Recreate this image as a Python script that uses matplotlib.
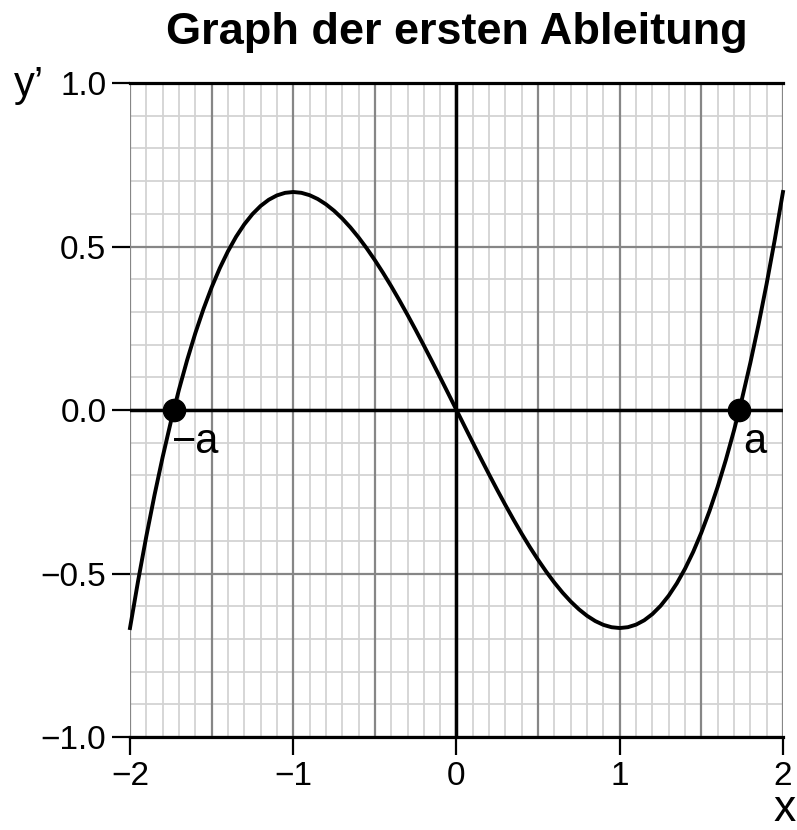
import numpy as np
import matplotlib
matplotlib.use('Agg')
import matplotlib.pyplot as plt
from matplotlib.ticker import MultipleLocator

plt.rcParams['font.family'] = ['Liberation Sans', 'DejaVu Sans']
plt.rcParams['axes.unicode_minus'] = True

x_vals = [round(-2.0 + 0.05 * i, 2) for i in range(81)]
y_left = [-0.6667, -0.5216, -0.3863, -0.2605, -0.1440, -0.0365, 0.0623, 0.1526,
          0.2347, 0.3087, 0.3750, 0.4338, 0.4853, 0.5299, 0.5677, 0.5990,
          0.6240, 0.6430, 0.6563, 0.6641, 0.6667, 0.6642, 0.6570, 0.6453,
          0.6293, 0.6094, 0.5857, 0.5585, 0.5280, 0.4945, 0.4583, 0.4196,
          0.3787, 0.3357, 0.2910, 0.2448, 0.1973, 0.1489, 0.0997, 0.0500]
y_vals = y_left + [0.0] + [-v for v in reversed(y_left)]

# Nullstellen -a und a
roots_x = [-1.732, 1.732]
roots_y = [0.0, 0.0]
root_labels = ['\u2212a', 'a']
label_dx = [-0.01, 0.025]

x_ticks = [-2, -1, 0, 1, 2]
y_ticks = [-1.0, -0.5, 0.0, 0.5, 1.0]

fig = plt.figure(figsize=(7.97, 8.30), dpi=100)
ax = fig.add_axes([0.1631, 0.112, 0.8193, 0.788])

ax.set_xlim(-2, 2)
ax.set_ylim(-1, 1)

# Kästchenraster
ax.xaxis.set_minor_locator(MultipleLocator(0.1))
ax.yaxis.set_minor_locator(MultipleLocator(0.1))
ax.grid(which='minor', color='#d3d3d3', linewidth=1.3, zorder=0)
ax.grid(which='major', axis='y', color='#868686', linewidth=1.6, zorder=0)
ax.set_axisbelow(True)
for xv in np.arange(-2, 2.01, 0.5):
    ax.axvline(xv, color='#868686', linewidth=1.6, zorder=1)

ax.axhline(0, color='black', linewidth=2.5, zorder=2)
ax.axvline(0, color='black', linewidth=2.5, zorder=2)

ax.plot(x_vals, y_vals, color='black', linewidth=2.8, zorder=3, clip_on=False)
ax.plot(roots_x, roots_y, 'o', color='black', markersize=16, zorder=4)
for rx, dx, lab in zip(roots_x, label_dx, root_labels):
    ax.text(rx + dx, -0.131, lab, fontsize=30, ha='left', va='baseline', zorder=5)

for side in ['left', 'right']:
    ax.spines[side].set_visible(False)
for side in ['top', 'bottom']:
    ax.spines[side].set_linewidth(2.3)

# Beschriftung der Achsen
ax.set_xticks(x_ticks)
ax.set_xticklabels(['\u22122', '\u22121', '0', '1', '2'])
ax.set_yticks(y_ticks)
ax.set_yticklabels(['\u22121.0', '\u22120.5', '0.0', '0.5', '1.0'])
ax.tick_params(which='major', length=13, width=1.6, labelsize=24, pad=4)
ax.tick_params(which='minor', length=0)

fig.text(0.5728, 0.947, 'Graph der ersten Ableitung', fontsize=32.5,
         fontweight='bold', ha='center', va='baseline')
fig.text(0.018, 0.884, 'y\u2019', fontsize=30, ha='left', va='baseline')
fig.text(0.970, 0.0, 'x', fontsize=32, ha='left', va='bottom')

fig.savefig('out.png', dpi=100)
